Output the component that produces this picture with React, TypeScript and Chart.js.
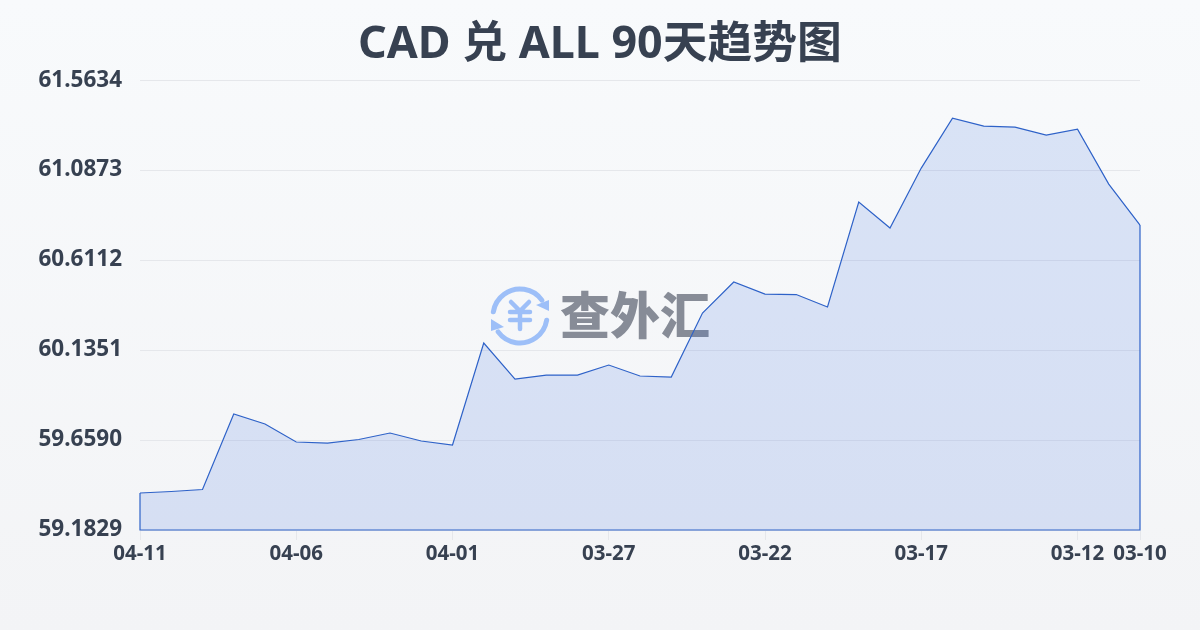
import React, { useEffect, useRef } from "react";
import { Chart, registerables } from "chart.js";

Chart.register(...registerables);

const titleText = "CAD 兑 ALL 90天趋势图";
const dates = ["04-11","04-10","04-09","04-08","04-07","04-06","04-05","04-04","04-03","04-02","04-01","03-31","03-30","03-29","03-28","03-27","03-26","03-25","03-24","03-23","03-22","03-21","03-20","03-19","03-18","03-17","03-16","03-15","03-14","03-13","03-12","03-11","03-10"];
const shownDates = ["04-11","04-06","04-01","03-27","03-22","03-17","03-12","03-10"];
const rates = [59.3786,59.3866,59.3971,59.7965,59.7436,59.6484,59.6431,59.6616,59.696,59.6537,59.6325,60.1721,59.9817,60.0028,60.0028,60.0557,59.9976,59.9923,60.3308,60.4948,60.4313,60.4287,60.3626,60.918,60.7805,61.0979,61.3624,61.3201,61.3148,61.2724,61.3042,61.0132,60.7963];
const yTicks = [59.1829,59.659,60.1351,60.6112,61.0873,61.5634];

const FONT = '"Noto Sans", "Noto Sans CJK SC", sans-serif';
const WM_FONT = '"Noto Sans CJK SC", sans-serif';
const LINE = "#2e62c8";

const watermark = {
  id: "watermark",
  beforeDatasetsDraw(chart: any) {
    const c = chart.ctx;
    c.save();
    const cx = 520, cy = 316, r = 27;
    c.strokeStyle = "#9dbff8";
    c.fillStyle = "#9dbff8";
    c.lineWidth = 5;
    c.lineCap = "round";
    c.beginPath(); c.arc(cx, cy, r, Math.PI * 1.05, Math.PI * 1.8); c.stroke();
    c.beginPath(); c.arc(cx, cy, r, Math.PI * 0.05, Math.PI * 0.8); c.stroke();
    c.beginPath(); c.moveTo(549, 300); c.lineTo(549, 311); c.lineTo(536, 305); c.closePath(); c.fill();
    c.beginPath(); c.moveTo(491, 319); c.lineTo(491, 331); c.lineTo(504, 327); c.closePath(); c.fill();
    c.lineWidth = 4.5;
    c.beginPath();
    c.moveTo(511, 302); c.lineTo(520, 311); c.lineTo(529, 302);
    c.moveTo(520, 311); c.lineTo(520, 329);
    c.moveTo(510, 312); c.lineTo(530, 312);
    c.moveTo(510, 320); c.lineTo(530, 320);
    c.stroke();
    c.fillStyle = "#878c97";
    c.font = `900 50px ${WM_FONT}`;
    c.textBaseline = "middle";
    c.textAlign = "left";
    c.fillText("查外汇", 560, 315);
    c.restore();
  },
};

const outline = {
  id: "outline",
  afterDatasetsDraw(chart: any) {
    const pts = chart.getDatasetMeta(0).data;
    const bottom = chart.scales.y.bottom;
    const c = chart.ctx;
    c.save();
    c.strokeStyle = LINE;
    c.lineWidth = 1.2;
    c.beginPath();
    c.moveTo(pts[0].x, pts[0].y);
    c.lineTo(pts[0].x, bottom);
    c.lineTo(pts[pts.length - 1].x, bottom);
    c.lineTo(pts[pts.length - 1].x, pts[pts.length - 1].y);
    c.stroke();
    c.restore();
  },
};

export default function App() {
  const ref = useRef<HTMLCanvasElement>(null);
  useEffect(() => {
    document.body.style.margin = "0";
    const chart = new Chart(ref.current!, {
      type: "line",
      data: {
        labels: dates,
        datasets: [{
          data: rates,
          borderColor: LINE,
          borderWidth: 1.2,
          backgroundColor: "rgba(46,98,220,0.15)",
          fill: "start",
          pointRadius: 0,
          tension: 0,
        }],
      },
      options: {
        responsive: false,
        animation: false,
        layout: { padding: 0 },
        plugins: {
          legend: { display: false },
          tooltip: { enabled: false },
          title: {
            display: true,
            text: titleText,
            color: "#374151",
            font: { family: FONT, size: 44.8, weight: "bold", lineHeight: 1 },
            padding: { top: 23, bottom: 12.3 },
          },
        },
        scales: {
          x: {
            afterFit(s: any) { s.height = 100; },
            grid: {
              display: true,
              drawOnChartArea: false,
              drawTicks: true,
              tickLength: 10,
              color(ctx: any) {
                return shownDates.includes(dates[ctx.index]) ? "#e5e7eb" : "transparent";
              },
            },
            border: { display: false },
            ticks: {
              autoSkip: false,
              maxRotation: 0,
              minRotation: 0,
              padding: 2,
              color: "#374151",
              font: { family: FONT, size: 20.5, weight: "bold" },
              callback(_v: any, i: number) {
                return shownDates.includes(dates[i]) ? dates[i] : "";
              },
            },
          },
          y: {
            min: yTicks[0],
            max: yTicks[yTicks.length - 1],
            afterFit(s: any) { s.width = 140; },
            afterBuildTicks(s: any) { s.ticks = yTicks.map((value) => ({ value })); },
            grid: { color: "#e5e7eb", lineWidth: 1, drawTicks: false },
            border: { display: false },
            ticks: {
              padding: 18,
              color: "#374151",
              font: { family: FONT, size: 22.5, weight: "bold" },
              callback(v: any) { return Number(v).toFixed(4); },
            },
          },
          rightGutter: {
            position: "right",
            afterFit(s: any) { s.width = 60; },
            grid: { display: false },
            border: { display: false },
            ticks: { display: false },
          },
        },
      },
      plugins: [watermark, outline],
    } as any);
    return () => chart.destroy();
  }, []);
  return (
    <div style={{ width: 1200, height: 630, background: "linear-gradient(180deg,#f8fafc 0%,#f3f4f6 100%)" }}>
      <canvas ref={ref} width={1200} height={630} style={{ display: "block" }} />
    </div>
  );
}
